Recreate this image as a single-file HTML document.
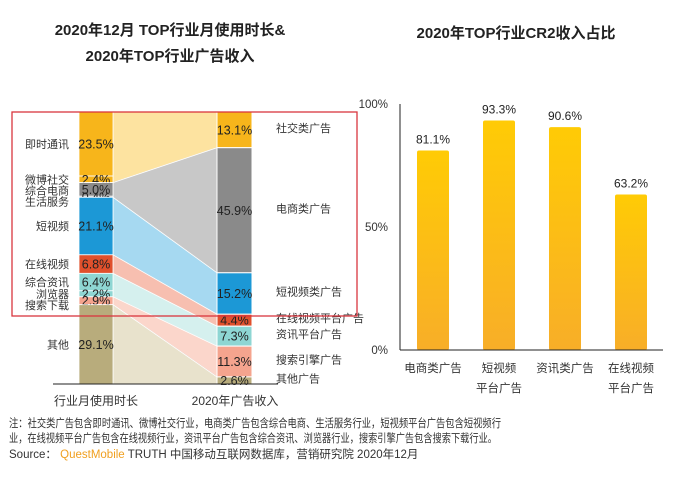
<!DOCTYPE html>
<html><head><meta charset="utf-8">
<style>
html,body{margin:0;padding:0;background:#fff;}
body{width:676px;height:475px;overflow:hidden;font-family:"Liberation Sans","Noto Sans CJK SC",sans-serif;}
svg text{font-family:"Liberation Sans","Noto Sans CJK SC",sans-serif;}
</style></head>
<body>
<svg id="c" width="676" height="475" viewBox="0 0 676 475" xmlns="http://www.w3.org/2000/svg">
<text x="170" y="35" font-size="15" font-weight="bold" text-anchor="middle" fill="#222">2020年12月 TOP行业月使用时长&amp;</text>
<text x="170" y="61" font-size="15" font-weight="bold" text-anchor="middle" fill="#222">2020年TOP行业广告收入</text>
<text x="516" y="38" font-size="15" font-weight="bold" text-anchor="middle" fill="#222">2020年TOP行业CR2收入占比</text>
<g id="left"></g>
<g id="right"></g>
<rect x="12" y="112" width="345" height="204" fill="none" stroke="#d9363e" stroke-width="1.3"/>
<text x="96" y="405" font-size="12" text-anchor="middle" fill="#333">行业月使用时长</text>
<text x="235" y="405" font-size="12" text-anchor="middle" fill="#333">2020年广告收入</text>
<text x="9" y="427" font-size="11.5" fill="#333" textLength="492" lengthAdjust="spacingAndGlyphs">注：社交类广告包含即时通讯、微博社交行业，电商类广告包含综合电商、生活服务行业，短视频平台广告包含短视频行</text>
<text x="9" y="442" font-size="11.5" fill="#333" textLength="488" lengthAdjust="spacingAndGlyphs">业，在线视频平台广告包含在线视频行业，资讯平台广告包含综合资讯、浏览器行业，搜索引擎广告包含搜索下载行业。</text>
<text x="9" y="458" font-size="11.5" fill="#333">Source： <tspan fill="#f0a020">QuestMobile</tspan> TRUTH 中国移动互联网数据库，营销研究院 2020年12月</text>
</svg>
<script>
// Left chart data
const usageCats = ["即时通讯","微博社交","综合电商","生活服务","短视频","在线视频","综合资讯","浏览器","搜索下载","其他"];
const usageVals = [23.5,2.4,5.0,0.4,21.1,6.8,6.4,2.2,2.9,29.1];
const usageGroup = [0,0,1,1,2,3,4,4,5,6];
const adCats = ["社交类广告","电商类广告","短视频类广告","在线视频平台广告","资讯平台广告","搜索引擎广告","其他广告"];
const adVals = [13.1,45.9,15.2,4.4,7.3,11.3,2.6];
// Right chart data
const crCats = [["电商类广告"],["短视频","平台广告"],["资讯类广告"],["在线视频","平台广告"]];
const crVals = [81.1,93.3,90.6,63.2];
const crTicks = [0,50,100];

const NS="http://www.w3.org/2000/svg";
function mk(tag,attrs,parent,txt){const e=document.createElementNS(NS,tag);for(const k in attrs)e.setAttribute(k,attrs[k]);if(txt!==undefined)e.textContent=txt;parent.appendChild(e);return e;}

// ---------- left sankey-like chart ----------
const L=document.getElementById('left');
const top0=112, bot0=384, H=bot0-top0;
const lx0=79,lx1=113, rx0=217,rx1=252;
const totL=usageVals.reduce((a,b)=>a+b,0), totR=adVals.reduce((a,b)=>a+b,0);
const yL=v=>top0+v/totL*H, yR=v=>top0+v/totR*H;
const usageColors=["#F7B51B","#F7B51B","#8A8A8A","#8A8A8A","#1C98D6","#E0502C","#8ED6D3","#8ED6D3","#F5A48E","#B8AC7C"];
const adColors=["#F7B51B","#8A8A8A","#1C98D6","#E0502C","#8ED6D3","#F5A48E","#B8AC7C"];
const flowColors=["#FDE3A0","#C8C8C8","#A6D9F1","#F7BFB0","#D5F0EE","#FBD6CB","#E8E2CC"];
const lStart=[],rStart=[];let c=0;usageVals.forEach(v=>{lStart.push(c);c+=v;});c=0;adVals.forEach(v=>{rStart.push(c);c+=v;});
adVals.forEach((v,g)=>{
  const idx=usageGroup.map((gg,i)=>gg===g?i:-1).filter(i=>i>=0);
  const a=yL(lStart[idx[0]]), b=yL(lStart[idx[idx.length-1]]+usageVals[idx[idx.length-1]]);
  const p=mk('polygon',{points:`${lx1},${a} ${rx0},${yR(rStart[g])} ${rx0},${yR(rStart[g]+v)} ${lx1},${b}`,fill:flowColors[g],stroke:"#fff","stroke-width":0.8},L);
  
  
  const ln=mk('line',{x1:lx1,y1:b,x2:rx0,y2:yR(rStart[g]+v),stroke:"#999","stroke-width":0.6},L);
  
  
});
let prevL=-100;
usageVals.forEach((v,i)=>{
  const y=yL(lStart[i]), h=v/totL*H;
  const r=mk('rect',{x:lx0,y:y,width:lx1-lx0,height:h,fill:usageColors[i],stroke:"#fff","stroke-width":0.8},L);
  
  
  const ym=y+h/2;
  const t=mk('text',{x:(lx0+lx1)/2,y:ym+4.5,"font-size":12.5,"text-anchor":"middle",fill:"#222"},L,v.toFixed(1)+"%");
  
  
  let lm=Math.max(ym,prevL+11); prevL=lm;
  const ct=mk('text',{x:69,y:lm+4,"font-size":11,"text-anchor":"end",fill:"#333"},L,usageCats[i]);
  
  
});
let prevR=-100;
adVals.forEach((v,i)=>{
  const y=yR(rStart[i]), h=v/totR*H;
  const r=mk('rect',{x:rx0,y:y,width:rx1-rx0,height:h,fill:adColors[i],stroke:"#fff","stroke-width":1},L);
  
  
  const ym=y+h/2;
  const t=mk('text',{x:(rx0+rx1)/2,y:ym+4.5,"font-size":12.5,"text-anchor":"middle",fill:"#222"},L,v.toFixed(1)+"%");
  
  
  let lm=Math.max(ym-2,prevR+15); prevR=lm;
  const ct=mk('text',{x:276,y:lm+4,"font-size":11,fill:"#333"},L,adCats[i]);
  
  
});
const bl=mk('line',{x1:53,y1:bot0,x2:278,y2:bot0,stroke:"#222","stroke-width":1},L);



// ---------- right bar chart ----------
const R=document.getElementById('right');
const ax=400, yTop=104, yBot=350, axR=663;
const yS=v=>yBot-v/100*(yBot-yTop);
const bw=32, step=66, first=433;
crTicks.forEach(t=>{
  const tx=mk('text',{x:388,y:yS(t)+4,"font-size":11.5,"text-anchor":"end",fill:"#333"},R,t+"%");
  
  
});
mk('defs',{},R).innerHTML='<linearGradient id="gy" x1="0" y1="0" x2="0" y2="1"><stop offset="0" stop-color="#FFCB05"/><stop offset="1" stop-color="#F8AE28"/></linearGradient>';
crVals.forEach((v,i)=>{
  const cx=first+i*step;
  const b=mk('rect',{x:cx-bw/2,y:yS(v),width:bw,height:yBot-yS(v),rx:2,fill:"url(#gy)"},R);
  
  
  const t=mk('text',{x:cx,y:yS(v)-7,"font-size":12,"text-anchor":"middle",fill:"#222"},R,v.toFixed(1)+"%");
  
  
  crCats[i].forEach((s,j)=>{
    const ct=mk('text',{x:cx,y:372+j*20,"font-size":11.5,"text-anchor":"middle",fill:"#333"},R,s);
    
    
  });
});
const ya=mk('line',{x1:ax,y1:yTop,x2:ax,y2:yBot,stroke:"#222","stroke-width":1},R);


const xa=mk('line',{x1:ax,y1:yBot,x2:axR,y2:yBot,stroke:"#222","stroke-width":1},R);


</script>
</body></html>
